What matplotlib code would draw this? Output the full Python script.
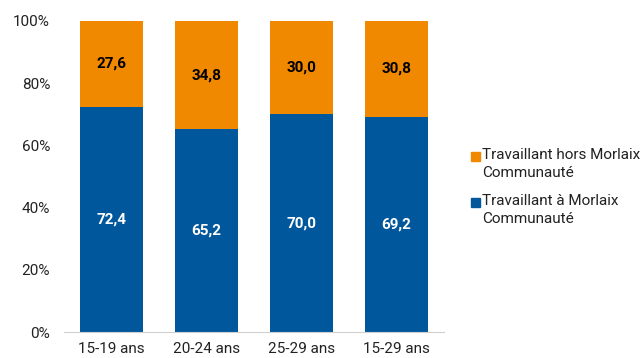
import numpy as np
import matplotlib.pyplot as plt
from matplotlib.patches import Rectangle

plt.rcParams['font.family'] = ['Roboto', 'DejaVu Sans']

categories = ['15-19 ans', '20-24 ans', '25-29 ans', '15-29 ans']
morlaix = [72.4, 65.2, 70.0, 69.2]
hors_morlaix = [27.6, 34.8, 30.0, 30.8]
legend_labels = ['Travaillant hors Morlaix\nCommunauté', 'Travaillant à Morlaix\nCommunauté']

blue = '#01579B'
orange = '#F08800'

W, H = 644, 358
fig = plt.figure(figsize=(W / 100, H / 100), dpi=100)
ax = fig.add_axes([64 / W, 1 - 332 / H, 380 / W, 311 / H])

x = np.arange(len(categories))
ax.bar(x, morlaix, width=0.67, color=blue)
ax.bar(x, hors_morlaix, width=0.67, bottom=morlaix, color=orange)

for i in range(len(categories)):
    ax.text(x[i], morlaix[i] / 2, f'{morlaix[i]:.1f}'.replace('.', ','),
            ha='center', va='center', color='white', fontsize=11, fontweight='bold')
    ax.text(x[i], morlaix[i] + hors_morlaix[i] / 2,
            f'{hors_morlaix[i]:.1f}'.replace('.', ','),
            ha='center', va='center', color='black', fontsize=11, fontweight='bold')

ax.set_xlim(-0.5, len(categories) - 0.5)
ax.set_ylim(0, 100)
ax.set_yticks(np.arange(0, 101, 20))
ax.set_yticklabels([f'{v}%' for v in range(0, 101, 20)])
ax.set_xticks(x)
ax.set_xticklabels(categories)
ax.tick_params(axis='both', length=0, labelsize=11, colors='#222222')
ax.tick_params(axis='y', pad=10)
ax.tick_params(axis='x', pad=7)
for s in ['top', 'right', 'left']:
    ax.spines[s].set_visible(False)
ax.spines['bottom'].set_color('#d0d0d0')

# legend drawn by hand: square beside the first line of each label
for lab, col, ytop in zip(legend_labels, [orange, blue], [148, 194]):
    fig.patches.append(Rectangle((471 / W, 1 - (ytop + 13) / H), 9 / W, 9 / H,
                                 transform=fig.transFigure, color=col))
    fig.text(482 / W, 1 - ytop / H, lab, ha='left', va='top', fontsize=11,
             color='#222222', linespacing=1.32)

fig.savefig('out.png', dpi=100)
